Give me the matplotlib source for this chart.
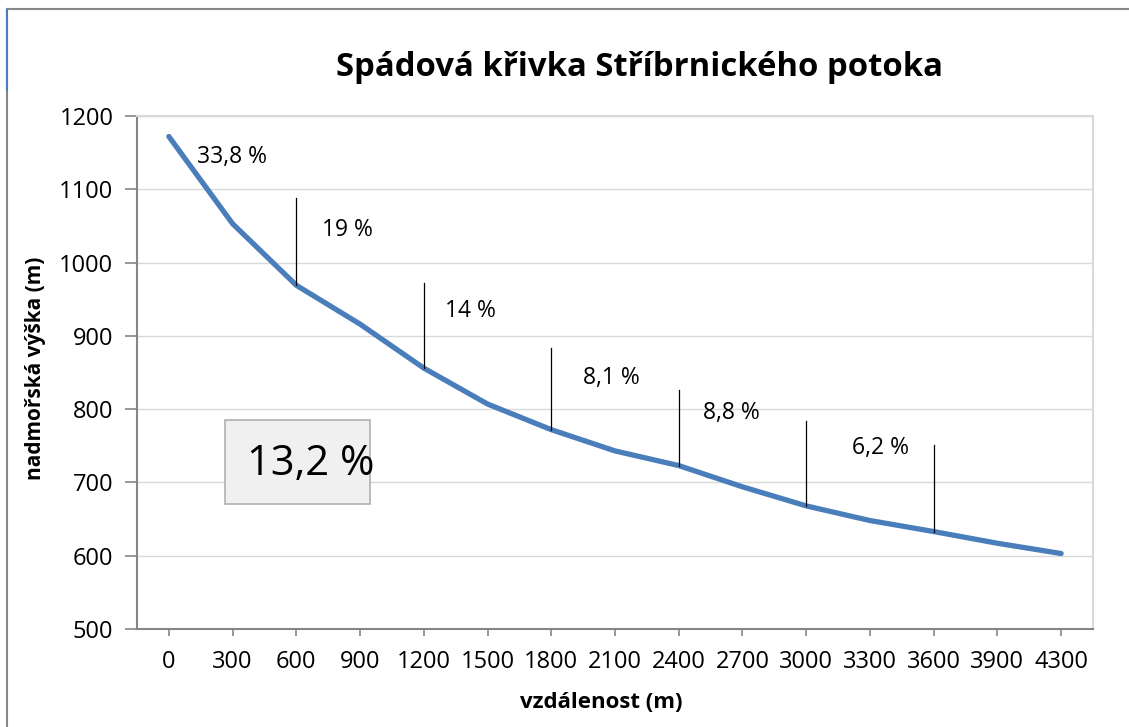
import numpy as np
import matplotlib.pyplot as plt
import matplotlib.patches as mpatches
import matplotlib.lines as mlines

plt.rcParams['font.family'] = ['Open Sans', 'DejaVu Sans']

# data
distance = ["0", "300", "600", "900", "1200", "1500", "1800", "2100", "2400",
            "2700", "3000", "3300", "3600", "3900", "4300"]
altitude = [1172, 1053, 969, 916, 856, 807, 772, 743, 723, 694, 668, 648, 633, 617, 603]

# slope marks: category index, top of marker line, slope label
mark_idx = [2, 4, 6, 8, 10, 12]
mark_top = [1088, 972, 883, 826, 784, 751]
slopes = ["33,8 %", "19 %", "14 %", "8,1 %", "8,8 %", "6,2 %"]
avg_slope = "13,2 %"

W, H = 1129, 727
fig = plt.figure(figsize=(W / 100, H / 100), dpi=100)
ax = fig.add_axes([137 / W, 1 - 629 / H, (1093 - 137) / W, (629 - 116) / H])

x = np.arange(len(distance))
ax.plot(x, altitude, color="#4a7ebb", lw=3.8, solid_capstyle="round", zorder=3)

for i, top in zip(mark_idx, mark_top):
    ax.plot([i, i], [altitude[i], top], color="black", lw=0.9, zorder=4)

# label positions (to the right of each mark)
label_pos = [(0.99, 1144), (2.80, 1044), (4.73, 934), (6.94, 843), (8.82, 795), (11.17, 747)]
for (lx, ly), s in zip(label_pos, slopes):
    ax.text(lx, ly, s, fontsize=16.5, ha="center", va="center", zorder=5)

ax.set_xlim(-0.5, len(distance) - 0.5)
ax.set_ylim(500, 1200)
ax.set_yticks(np.arange(500, 1201, 100))
ax.set_xticks(x)
ax.set_xticklabels(distance)
ax.grid(axis="y", color="#d9d9d9", lw=1)
ax.set_axisbelow(True)
ax.tick_params(axis="y", length=9, width=1.2, color="#868686", labelsize=17, pad=8)
ax.tick_params(axis="x", length=5, width=1.2, color="#868686", labelsize=17, pad=10)
for s in ["left", "bottom"]:
    ax.spines[s].set_color("#868686")
    ax.spines[s].set_linewidth(1.5)
for s in ["top", "right"]:
    ax.spines[s].set_color("#d9d9d9")
    ax.spines[s].set_linewidth(1.5)

fig.text(601 / W, 1 - 702 / H, "vzdálenost (m)", fontsize=16, fontweight="bold",
         ha="center", va="center")
fig.text(36 / W, 1 - 368 / H, "nadmořská výška (m)", fontsize=15, fontweight="bold",
         ha="center", va="center", rotation=90)

fig.text(640 / W, 1 - 68 / H, "Spádová křivka Stříbrnického potoka",
         fontsize=23.7, fontweight="bold", ha="center", va="center")

# average slope box
box = mpatches.Rectangle((225 / W, 1 - 504 / H), 145 / W, 84 / H,
                         transform=fig.transFigure, facecolor="#f0f0f0",
                         edgecolor="#b0b0b0", lw=1.2, zorder=5)
fig.add_artist(box)
fig.text(311 / W, 1 - 464 / H, avg_slope, fontsize=30, ha="center", va="center", zorder=6)

# outer frame
fig.add_artist(mlines.Line2D([7 / W, 1], [1 - 9 / H, 1 - 9 / H],
                             transform=fig.transFigure, color="#888888", lw=1.5))
fig.add_artist(mlines.Line2D([7 / W, 7 / W], [0, 1 - 9 / H],
                             transform=fig.transFigure, color="#888888", lw=1.5))
fig.add_artist(mlines.Line2D([7 / W, 7 / W], [1 - 90 / H, 1 - 10 / H],
                             transform=fig.transFigure, color="#4a7ebb", lw=1.5))

fig.savefig("out.png", dpi=100)
